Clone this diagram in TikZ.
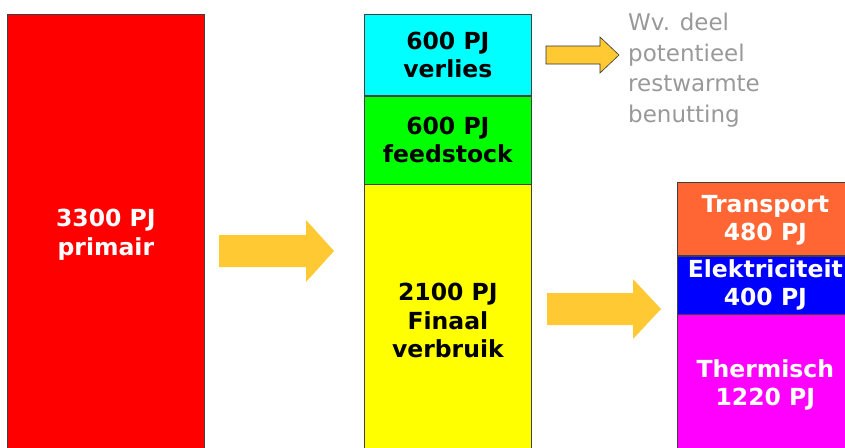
\documentclass[tikz,border=0pt]{standalone}
\usepackage{fontspec}
\setmainfont{DejaVu Sans}
\usepackage{tikz}
\usetikzlibrary{positioning}

\definecolor{arrowgold}{HTML}{FFC933}
\definecolor{transportorange}{HTML}{FF6633}
\definecolor{notegray}{HTML}{999999}
\definecolor{verliescyan}{HTML}{00FFFF}
\definecolor{feedgreen}{HTML}{00FF00}
\definecolor{finaalyellow}{HTML}{FFFF00}
\definecolor{thermmagenta}{HTML}{FF00FF}
\definecolor{elekblue}{HTML}{0000FF}
\definecolor{primred}{HTML}{FF0000}

\tikzset{
  energy block/.style={draw=black!75,line width=0.7pt,inner sep=0pt,align=center,
    font=\bfseries\fontsize{23.5}{28.5}\selectfont},
  block arrow/.style={fill=arrowgold},
  note/.style={text=notegray,align=left,inner sep=0pt,font=\fontsize{23}{30.5}\selectfont}
}

\begin{document}
\begin{tikzpicture}[x=1pt,y=-1pt]
  \useasboundingbox (0,0) rectangle (845,447);
  %left
  \node[energy block,fill=primred,text=white,anchor=north west,minimum width=197pt,minimum height=441pt] (primair) at (7,14) {3300 PJ\\primair};
  \fill[block arrow] (219,235) -- (306,235) -- (306,220) -- (334,251) -- (306,282) -- (306,267) -- (219,267) -- cycle;

  %middle
  \node[energy block,fill=verliescyan,anchor=north west,minimum width=167pt,minimum height=81pt] (verlies) at (364,14) {600 PJ\\verlies};
  \node[energy block,fill=feedgreen,minimum width=167pt,minimum height=88pt,below=0pt of verlies] (feedstock) {600 PJ\\feedstock};
  \node[energy block,fill=finaalyellow,minimum width=167pt,minimum height=272pt,below=0pt of feedstock] (finaal) {2100 PJ\\Finaal\\verbruik};
  %note
  \draw[block arrow,draw=black!80,line width=0.6pt] (546,46) -- (600,46) -- (600,37) -- (619,55) -- (600,73) -- (600,64) -- (546,64) -- cycle;
  \node[note,anchor=north west] (restwarmte) at (628,13) {Wv. deel\\potentieel\\restwarmte\\benutting};
  \fill[block arrow] (547,293) -- (633,293) -- (633,279) -- (661,309) -- (633,339) -- (633,325) -- (547,325) -- cycle;

  %right
  \node[energy block,fill=transportorange,text=white,anchor=north west,minimum width=176pt,minimum height=73pt,text depth=2pt] (transport) at (677,182) {Transport\\480 PJ};
  \node[energy block,fill=elekblue,text=white,minimum width=176pt,minimum height=58pt,below=0pt of transport] (elektriciteit) {Elektriciteit\\400 PJ};
  \node[energy block,fill=thermmagenta,text=white,minimum width=176pt,minimum height=140pt,below=0pt of elektriciteit] (thermisch) {Thermisch\\1220 PJ};
\end{tikzpicture}
\end{document}
